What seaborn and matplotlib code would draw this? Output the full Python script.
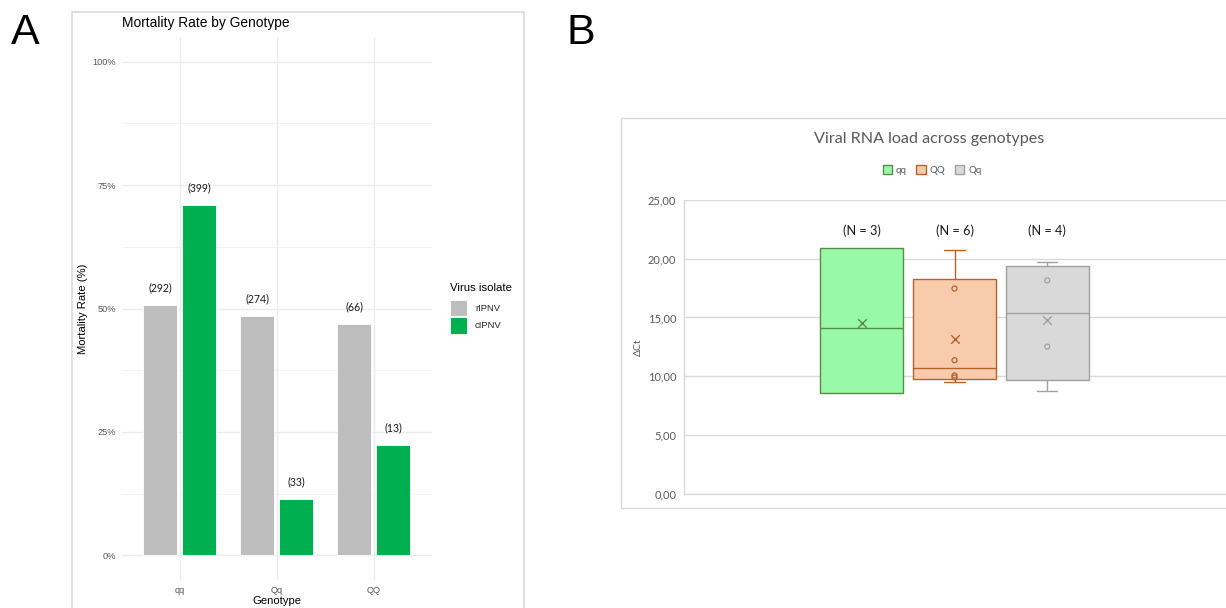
import numpy as np
import pandas as pd
import seaborn as sns
import matplotlib
matplotlib.use("Agg")
import matplotlib.pyplot as plt
from matplotlib.patches import Rectangle, Patch
from matplotlib.ticker import FixedLocator, FuncFormatter

# ---------------- data ----------------
genotypes = ["qq", "Qq", "QQ"]
isolates = ["rIPNV", "cIPNV"]
mortality_rIPNV = [50.7, 48.5, 46.8]
mortality_cIPNV = [71.0, 11.4, 22.3]
counts_rIPNV = [292, 274, 66]
counts_cIPNV = [399, 33, 13]

box_groups = ["qq", "QQ", "Qq"]
dct_qq = [8.58, 14.14, 20.91]
dct_QQ = [9.52, 9.89, 10.06, 11.36, 17.46, 20.71]
dct_Qq = [8.70, 12.52, 18.16, 19.75]
show_inner = [False, True, True]

# ---------------- style ----------------
sns.set_style("white")
plt.rcParams["font.family"] = ["Liberation Sans", "DejaVu Sans"]
CAL = ["Lato", "DejaVu Sans"]

W, H = 1226, 608
fig = plt.figure(figsize=(W / 100, H / 100), dpi=100)


def fx(px):
    return px / W


def fy(py):
    return 1 - py / H


def axes_rect(left, top, right, bottom):
    return [fx(left), fy(bottom), (right - left) / W, (bottom - top) / H]


# ---------------- panel frames and letters ----------------
frame_col = "#D9D9D9"
fig.add_artist(Rectangle((fx(71.5), fy(640)), (524 - 71.5) / W, (640 - 12) / H,
                         transform=fig.transFigure, fill=False, ec=frame_col, lw=1.2))
fig.add_artist(Rectangle((fx(621), fy(508)), (1300 - 621) / W, (508 - 118) / H,
                         transform=fig.transFigure, fill=False, ec=frame_col, lw=1.0))
fig.text(fx(11), fy(44), "A", fontsize=31, ha="left", va="baseline", color="black")
fig.text(fx(567), fy(44), "B", fontsize=31, ha="left", va="baseline", color="black")

# ---------------- panel A: mortality bar chart ----------------
df = pd.DataFrame({
    "Genotype": genotypes * 2,
    "Isolate": [isolates[0]] * 3 + [isolates[1]] * 3,
    "Rate": mortality_rIPNV + mortality_cIPNV,
    "N": counts_rIPNV + counts_cIPNV,
})
palette_a = {"rIPNV": "#BEBEBE", "cIPNV": "#00B050"}

axA = fig.add_axes(axes_rect(121.5, 37, 432, 580))
sns.barplot(data=df, x="Genotype", y="Rate", hue="Isolate", order=genotypes,
            hue_order=isolates, palette=palette_a, saturation=1, width=0.8, gap=0.125,
            edgecolor="white", linewidth=0.6, legend=False, ax=axA, zorder=3)

for container, iso in zip(axA.containers, isolates):
    sub = df[df["Isolate"] == iso].set_index("Genotype").loc[genotypes]
    for bar, n in zip(container, sub["N"]):
        axA.annotate(f"({n})", (bar.get_x() + bar.get_width() / 2, bar.get_height()),
                     xytext=(0, 12.6), textcoords="offset points", ha="center", va="center",
                     fontsize=7.6, family=CAL, color="#1a1a1a", zorder=4)

axA.set_xlim(-0.6, 2.6)
axA.set_ylim(-5, 105)
axA.yaxis.set_major_locator(FixedLocator([0, 25, 50, 75, 100]))
axA.yaxis.set_minor_locator(FixedLocator([12.5, 37.5, 62.5, 87.5]))
axA.yaxis.set_major_formatter(FuncFormatter(lambda v, p: f"{v:.0f}%"))
axA.grid(True, which="major", axis="both", color="#EBEBEB", lw=1.0, zorder=0)
axA.grid(True, which="minor", axis="y", color="#F2F2F2", lw=0.7, zorder=0)
axA.set_axisbelow(True)
for s in axA.spines.values():
    s.set_visible(False)
axA.tick_params(axis="both", which="both", length=0, labelsize=6.6, labelcolor="#555555")
axA.tick_params(axis="y", pad=4)
axA.tick_params(axis="x", pad=4)
axA.set_xlabel("Genotype", fontsize=8.1, color="black")
axA.xaxis.set_label_coords(0.5, (580 - 601.5) / (580 - 37), transform=axA.transAxes)
axA.xaxis.label.set_va("center")
axA.set_ylabel("Mortality Rate (%)", fontsize=8.1, color="black")
axA.yaxis.set_label_coords((82.5 - 121.5) / (432 - 121.5), 0.5)
axA.yaxis.label.set_va("center")
fig.text(fx(121.5), fy(23.5), "Mortality Rate by Genotype", fontsize=9.9,
         ha="left", va="center", color="black")

# legend: title text above a title-less key block
fig.text(fx(450), fy(288.5), "Virus isolate", fontsize=8.2, ha="left", va="center",
         color="black")
fig.legend(handles=[Patch(fc=palette_a[i], ec="white", lw=0.6) for i in isolates],
           labels=isolates, loc="upper left",
           bbox_to_anchor=(fx(450), fy(299.5)), frameon=False, fontsize=6.8,
           handlelength=1.8, handleheight=2.39, labelspacing=0.05,
           handletextpad=0.85, borderpad=0, borderaxespad=0)

# ---------------- panel B: viral load box plot ----------------
box_values = [dct_qq, dct_QQ, dct_Qq]
box_fill = ["#98FAA8", "#F8CBAD", "#D9D9D9"]
box_edge = ["#568C45", "#B5622A", "#A0A0A0"]
positions = [-1, 0, 1]

axB = fig.add_axes(axes_rect(684, 200, 1226, 493.6))
axB.set_axisbelow(True)
for pos, name, vals, fc, ec, inner in zip(positions, box_groups, box_values,
                                           box_fill, box_edge, show_inner):
    v = np.asarray(vals, dtype=float)
    q1, med, q3 = np.percentile(v, [25, 50, 75], method="weibull")
    stat = dict(label=name, q1=q1, med=med, q3=q3, whislo=v.min(), whishi=v.max(),
                mean=v.mean(), fliers=[])
    has_whiskers = (v.min() < q1) or (v.max() > q3)
    axB.bxp([stat], positions=[pos], widths=0.895,
            capwidths=0.216 if has_whiskers else 0.0, patch_artist=True,
            showfliers=False, showmeans=False, manage_ticks=False,
            boxprops=dict(facecolor=fc, edgecolor=ec, linewidth=1.0),
            medianprops=dict(color=ec, linewidth=1.0),
            whiskerprops=dict(color=ec, linewidth=1.0),
            capprops=dict(color=ec, linewidth=1.0))
    sns.scatterplot(x=[pos], y=[v.mean()], marker="x", s=38, color=ec, linewidth=1.0,
                    ax=axB, zorder=5)
    if inner:
        pts = v[(v > v.min()) & (v < v.max())]
        sns.scatterplot(x=[pos] * len(pts), y=pts, marker="o", s=13, facecolor="none",
                        edgecolor=ec, linewidth=0.9, ax=axB, zorder=5)
    axB.text(pos, 22.4, f"(N = {len(v)})", ha="center", va="center", fontsize=9.2,
             family=CAL, color="#1a1a1a")

axB.set_xlim((684 - 954.5) / 92.75, (1226 - 954.5) / 92.75)
axB.set_ylim(0, 25)
axB.set_yticks([0, 5, 10, 15, 20, 25])
axB.yaxis.set_major_formatter(FuncFormatter(lambda v, p: f"{v:.2f}".replace(".", ",")))
axB.set_xticks([])
axB.grid(True, axis="y", color="#D9D9D9", lw=1.0)
axB.grid(False, axis="x")
for side in ["top", "right"]:
    axB.spines[side].set_visible(False)
for side in ["left", "bottom"]:
    axB.spines[side].set_color("#D9D9D9")
    axB.spines[side].set_linewidth(1.0)
axB.tick_params(axis="y", length=0, pad=5.5, labelsize=8, labelcolor="#595959")
for lab in axB.get_yticklabels():
    lab.set_family(CAL)
axB.set_xlabel("")
axB.set_ylabel("ΔCt", fontsize=7.5, color="#595959", family=CAL)
axB.yaxis.set_label_coords((638 - 684) / (1226 - 684), 0.5)
axB.yaxis.label.set_va("center")

fig.text(fx(929), fy(139), "Viral RNA load across genotypes", fontsize=11.6,
         ha="center", va="center", color="#595959", family=CAL)
fig.legend(handles=[Patch(fc=f, ec=e, lw=1.0) for f, e in zip(box_fill, box_edge)],
           labels=box_groups, loc="center", bbox_to_anchor=(fx(932), fy(170)),
           ncol=3, frameon=False, handlelength=0.95, handleheight=1.0,
           handletextpad=0.4, columnspacing=1.0, borderpad=0, labelcolor="#595959",
           prop={"family": CAL, "size": 7})

fig.savefig("out.png", dpi=100)
